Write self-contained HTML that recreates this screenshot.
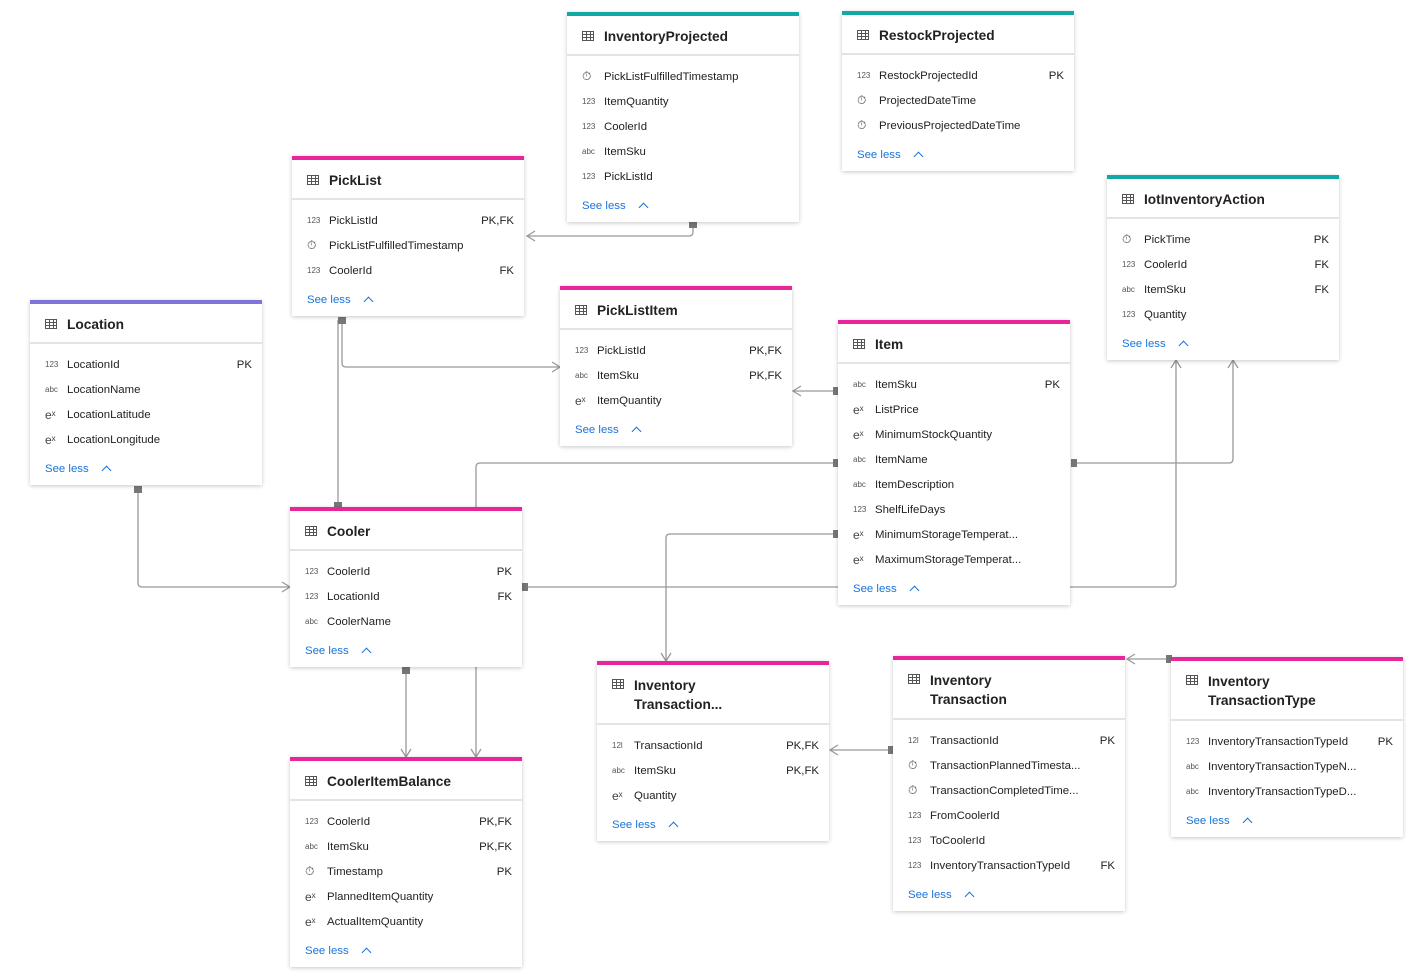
<!DOCTYPE html>
<html><head><meta charset="utf-8"><style>
body{margin:0;width:1422px;height:975px;background:#fff;position:relative;overflow:hidden;font-family:"Liberation Sans",sans-serif;color:#222}
.t{position:absolute;width:232px;background:#fff;box-shadow:0 1px 4px rgba(0,0,0,.22)}
.bar{height:4px;background:#e8259a}
.teal .bar{background:#12a8a4}
.purple .bar{background:#7f75d8}
.hd{height:36px;padding-top:2px;border-bottom:2px solid #e4e4e4;display:flex;align-items:center;padding-left:15px;font-size:13.7px;font-weight:bold;color:#222}
.hd.two{height:56px;line-height:19px}
.hd .ic{width:12px;height:10px;border:1px solid #555;margin-right:10px;background:repeating-linear-gradient(90deg,transparent 0 3px,#555 3px 4px),repeating-linear-gradient(0deg,transparent 0 2px,#555 2px 3px);box-sizing:border-box;flex:none;align-self:center}
.hd.two .ic{align-self:flex-start;margin-top:12px}
.rows{padding-top:8px}
.r{height:25px;display:flex;align-items:center;font-size:11.4px;padding:0 10px 0 15px}
.r i{font-style:normal;font-size:8px;color:#555;width:22px;flex:none}
.r i.c{font-size:12px;color:#444}
.r span{flex:1;white-space:nowrap}
.r b{font-weight:normal}
.sl{height:25px;margin-top:4px;margin-bottom:4px;display:flex;align-items:center;padding-left:15px;font-size:11.4px;color:#1a73d9}
.sl:after{content:"";width:6px;height:6px;border-left:1.5px solid #1a73d9;border-top:1.5px solid #1a73d9;transform:rotate(45deg);margin-left:14px;margin-top:4px}
svg{position:absolute;left:0;top:0}
</style></head><body>
<svg width="1422" height="975" fill="none" stroke="#999" stroke-width="1.3">
<path d="M693 224 V232 Q693 236 689 236 H527"/><path d="M535 231 L527 236 L535 241"/>
<path d="M342 320 V363 Q342 367 346 367 H560"/><path d="M552 362 L560 367 L552 372"/>
<path d="M338 320 V505"/>
<path d="M138 489 V583 Q138 587 142 587 H290"/><path d="M282 582 L290 587 L282 592"/>
<path d="M836 391 H793"/><path d="M801 386 L793 391 L801 396"/>
<path d="M836 463 H480 Q476 463 476 467 V507"/>
<path d="M836 534 H670 Q666 534 666 538 V661"/><path d="M661 653 L666 661 L671 653"/>
<path d="M525 587 H838 M1070 587 H1172 Q1176 587 1176 583 V360"/><path d="M1171 368 L1176 360 L1181 368"/>
<path d="M1074 463 H1229 Q1233 463 1233 459 V360"/><path d="M1228 368 L1233 360 L1238 368"/>
<path d="M406 670 V757"/><path d="M401 749 L406 757 L411 749"/>
<path d="M476 667 V757"/><path d="M471 749 L476 757 L481 749"/>
<path d="M891 750 H830"/><path d="M838 745 L830 750 L838 755"/>
<path d="M1169 659 H1127"/><path d="M1135 654 L1127 659 L1135 664"/>
<g fill="#777" stroke="none">
<rect x="689" y="221" width="8" height="7"/><rect x="338" y="317" width="8" height="7"/><rect x="334" y="502" width="8" height="7"/>
<rect x="134" y="486" width="8" height="7"/><rect x="833" y="387" width="6" height="8"/><rect x="833" y="459" width="6" height="8"/>
<rect x="833" y="530" width="6" height="8"/><rect x="522" y="583" width="6" height="8"/><rect x="1071" y="459" width="6" height="8"/>
<rect x="402" y="667" width="8" height="7"/><rect x="888" y="746" width="6" height="8"/><rect x="1166" y="655" width="6" height="8"/>
</g>
</svg>

<div class="t teal" style="left:567px;top:12px"><div class="bar"></div><div class="hd"><div class="ic"></div>InventoryProjected</div><div class="rows">
<div class="r"><i class="c">⏱</i><span>PickListFulfilledTimestamp</span></div>
<div class="r"><i>123</i><span>ItemQuantity</span></div>
<div class="r"><i>123</i><span>CoolerId</span></div>
<div class="r"><i>abc</i><span>ItemSku</span></div>
<div class="r"><i>123</i><span>PickListId</span></div>
</div><div class="sl">See less</div></div>

<div class="t teal" style="left:842px;top:11px"><div class="bar"></div><div class="hd"><div class="ic"></div>RestockProjected</div><div class="rows">
<div class="r"><i>123</i><span>RestockProjectedId</span><b>PK</b></div>
<div class="r"><i class="c">⏱</i><span>ProjectedDateTime</span></div>
<div class="r"><i class="c">⏱</i><span>PreviousProjectedDateTime</span></div>
</div><div class="sl">See less</div></div>

<div class="t" style="left:292px;top:156px"><div class="bar"></div><div class="hd"><div class="ic"></div>PickList</div><div class="rows">
<div class="r"><i>123</i><span>PickListId</span><b>PK,FK</b></div>
<div class="r"><i class="c">⏱</i><span>PickListFulfilledTimestamp</span></div>
<div class="r"><i>123</i><span>CoolerId</span><b>FK</b></div>
</div><div class="sl">See less</div></div>

<div class="t teal" style="left:1107px;top:175px"><div class="bar"></div><div class="hd"><div class="ic"></div>IotInventoryAction</div><div class="rows">
<div class="r"><i class="c">⏱</i><span>PickTime</span><b>PK</b></div>
<div class="r"><i>123</i><span>CoolerId</span><b>FK</b></div>
<div class="r"><i>abc</i><span>ItemSku</span><b>FK</b></div>
<div class="r"><i>123</i><span>Quantity</span></div>
</div><div class="sl">See less</div></div>

<div class="t purple" style="left:30px;top:300px"><div class="bar"></div><div class="hd"><div class="ic"></div>Location</div><div class="rows">
<div class="r"><i>123</i><span>LocationId</span><b>PK</b></div>
<div class="r"><i>abc</i><span>LocationName</span></div>
<div class="r"><i class="c">eˣ</i><span>LocationLatitude</span></div>
<div class="r"><i class="c">eˣ</i><span>LocationLongitude</span></div>
</div><div class="sl">See less</div></div>

<div class="t" style="left:560px;top:286px"><div class="bar"></div><div class="hd"><div class="ic"></div>PickListItem</div><div class="rows">
<div class="r"><i>123</i><span>PickListId</span><b>PK,FK</b></div>
<div class="r"><i>abc</i><span>ItemSku</span><b>PK,FK</b></div>
<div class="r"><i class="c">eˣ</i><span>ItemQuantity</span></div>
</div><div class="sl">See less</div></div>

<div class="t" style="left:838px;top:320px"><div class="bar"></div><div class="hd"><div class="ic"></div>Item</div><div class="rows">
<div class="r"><i>abc</i><span>ItemSku</span><b>PK</b></div>
<div class="r"><i class="c">eˣ</i><span>ListPrice</span></div>
<div class="r"><i class="c">eˣ</i><span>MinimumStockQuantity</span></div>
<div class="r"><i>abc</i><span>ItemName</span></div>
<div class="r"><i>abc</i><span>ItemDescription</span></div>
<div class="r"><i>123</i><span>ShelfLifeDays</span></div>
<div class="r"><i class="c">eˣ</i><span>MinimumStorageTemperat...</span></div>
<div class="r"><i class="c">eˣ</i><span>MaximumStorageTemperat...</span></div>
</div><div class="sl">See less</div></div>

<div class="t" style="left:290px;top:507px"><div class="bar"></div><div class="hd"><div class="ic"></div>Cooler</div><div class="rows">
<div class="r"><i>123</i><span>CoolerId</span><b>PK</b></div>
<div class="r"><i>123</i><span>LocationId</span><b>FK</b></div>
<div class="r"><i>abc</i><span>CoolerName</span></div>
</div><div class="sl">See less</div></div>

<div class="t" style="left:290px;top:757px"><div class="bar"></div><div class="hd"><div class="ic"></div>CoolerItemBalance</div><div class="rows">
<div class="r"><i>123</i><span>CoolerId</span><b>PK,FK</b></div>
<div class="r"><i>abc</i><span>ItemSku</span><b>PK,FK</b></div>
<div class="r"><i class="c">⏱</i><span>Timestamp</span><b>PK</b></div>
<div class="r"><i class="c">eˣ</i><span>PlannedItemQuantity</span></div>
<div class="r"><i class="c">eˣ</i><span>ActualItemQuantity</span></div>
</div><div class="sl">See less</div></div>

<div class="t" style="left:597px;top:661px"><div class="bar"></div><div class="hd two"><div class="ic"></div><div>Inventory<br>Transaction...</div></div><div class="rows">
<div class="r"><i>12l</i><span>TransactionId</span><b>PK,FK</b></div>
<div class="r"><i>abc</i><span>ItemSku</span><b>PK,FK</b></div>
<div class="r"><i class="c">eˣ</i><span>Quantity</span></div>
</div><div class="sl">See less</div></div>

<div class="t" style="left:893px;top:656px"><div class="bar"></div><div class="hd two"><div class="ic"></div><div>Inventory<br>Transaction</div></div><div class="rows">
<div class="r"><i>12l</i><span>TransactionId</span><b>PK</b></div>
<div class="r"><i class="c">⏱</i><span>TransactionPlannedTimesta...</span></div>
<div class="r"><i class="c">⏱</i><span>TransactionCompletedTime...</span></div>
<div class="r"><i>123</i><span>FromCoolerId</span></div>
<div class="r"><i>123</i><span>ToCoolerId</span></div>
<div class="r"><i>123</i><span>InventoryTransactionTypeId</span><b>FK</b></div>
</div><div class="sl">See less</div></div>

<div class="t" style="left:1171px;top:657px"><div class="bar"></div><div class="hd two"><div class="ic"></div><div>Inventory<br>TransactionType</div></div><div class="rows">
<div class="r"><i>123</i><span>InventoryTransactionTypeId</span><b>PK</b></div>
<div class="r"><i>abc</i><span>InventoryTransactionTypeN...</span></div>
<div class="r"><i>abc</i><span>InventoryTransactionTypeD...</span></div>
</div><div class="sl">See less</div></div>
</body></html>
